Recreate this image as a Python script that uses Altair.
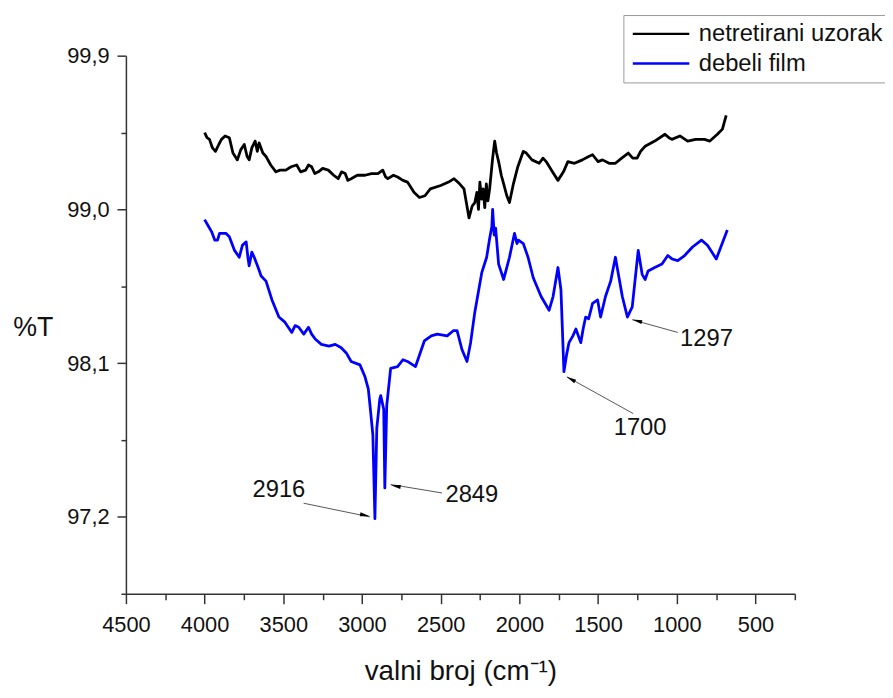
import altair as alt
import pandas as pd

# ---------------- data ----------------
series_names = ["netretirani uzorak", "debeli film"]
series_colors = ["#000000", "#0000ff"]

black_x = [4000, 3985, 3969, 3950, 3931, 3910, 3893, 3870, 3843, 3820, 3792, 3770, 3748, 3730, 3717,
           3700, 3679, 3665, 3654, 3630, 3610, 3580, 3547, 3520, 3484, 3450, 3415, 3390, 3358, 3340,
           3320, 3300, 3277, 3250, 3214, 3180, 3151, 3130, 3107, 3090, 3069, 3030, 2981, 2940, 2899,
           2868, 2850, 2836, 2800, 2774, 2740, 2711, 2670, 2635, 2600, 2566, 2500, 2450, 2415, 2380,
           2352, 2320, 2300, 2283, 2270, 2260, 2251, 2240, 2230, 2220, 2210, 2200, 2189, 2170, 2157,
           2145, 2132, 2115, 2100, 2080, 2063, 2038, 2010, 1975, 1956, 1920, 1874, 1850, 1830, 1790,
           1755, 1720, 1692, 1650, 1600, 1560, 1535, 1500, 1472, 1430, 1390, 1350, 1308, 1280, 1252,
           1230, 1201, 1140, 1075, 1050, 1031, 980, 931, 880, 824, 790, 742, 710, 686]
black_y = [99.45, 99.42, 99.41, 99.36, 99.34, 99.38, 99.41, 99.43, 99.42, 99.33, 99.29, 99.35, 99.38, 99.31, 99.29,
           99.36, 99.40, 99.34, 99.39, 99.33, 99.31, 99.26, 99.22, 99.23, 99.23, 99.25, 99.26, 99.22, 99.23, 99.26,
           99.25, 99.21, 99.22, 99.24, 99.23, 99.20, 99.18, 99.22, 99.21, 99.17, 99.18, 99.20, 99.20, 99.21, 99.21,
           99.23, 99.19, 99.18, 99.20, 99.19, 99.17, 99.16, 99.10, 99.07, 99.08, 99.12, 99.14, 99.16, 99.18, 99.15,
           99.12, 98.95, 99.02, 99.04, 99.10, 99.00, 99.16, 99.06, 99.12, 99.01, 99.15, 99.05, 99.12, 99.30, 99.40,
           99.33, 99.28, 99.20, 99.15, 99.08, 99.04, 99.15, 99.25, 99.34, 99.33, 99.29, 99.27, 99.30, 99.28, 99.22,
           99.17, 99.22, 99.28, 99.27, 99.29, 99.31, 99.32, 99.28, 99.29, 99.27, 99.27, 99.30, 99.33, 99.30, 99.30,
           99.34, 99.37, 99.40, 99.44, 99.42, 99.41, 99.43, 99.40, 99.41, 99.41, 99.40, 99.44, 99.47, 99.55]

blue_x = [4000, 3975, 3956, 3935, 3918, 3905, 3893, 3865, 3843, 3810, 3780, 3760, 3736, 3725, 3717,
          3700, 3685, 3660, 3641, 3610, 3572, 3528, 3490, 3446, 3425, 3402, 3370, 3340, 3320, 3296,
          3258, 3210, 3170, 3132, 3100, 3069, 3013, 2981, 2960, 2950, 2931, 2918, 2906, 2887,
          2881, 2862, 2855, 2843, 2818, 2774, 2740, 2711, 2660, 2604, 2560, 2522, 2459, 2420, 2396,
          2365, 2333, 2310, 2283, 2239, 2208, 2189, 2175, 2170, 2160, 2151, 2132, 2100, 2063, 2031,
          2015, 2006, 1975, 1945, 1912, 1862, 1811, 1786, 1755, 1736, 1717, 1700, 1685, 1660, 1641,
          1610, 1595, 1579, 1560, 1535, 1503, 1484, 1453, 1420, 1390, 1346, 1314, 1283, 1245, 1220,
          1201, 1182, 1140, 1094, 1057, 1030, 994, 950, 900, 843, 805, 749, 720, 679]
blue_y = [98.94, 98.90, 98.87, 98.82, 98.82, 98.86, 98.86, 98.86, 98.84, 98.76, 98.72, 98.79, 98.81, 98.72, 98.67,
          98.75, 98.72, 98.66, 98.61, 98.58, 98.47, 98.37, 98.34, 98.28, 98.32, 98.31, 98.27, 98.31, 98.27, 98.24,
          98.21, 98.20, 98.21, 98.19, 98.16, 98.11, 98.09, 98.02, 97.95, 97.86, 97.68, 97.19, 97.72, 97.89,
          97.91, 97.83, 97.37, 97.85, 98.07, 98.08, 98.12, 98.11, 98.08, 98.23, 98.26, 98.27, 98.26, 98.29, 98.29,
          98.18, 98.11, 98.22, 98.40, 98.63, 98.72, 98.83, 98.90, 99.00, 98.85, 98.89, 98.68, 98.59, 98.72, 98.86,
          98.80, 98.82, 98.80, 98.72, 98.60, 98.49, 98.41, 98.49, 98.66, 98.53, 98.05, 98.15, 98.22, 98.26, 98.30,
          98.22, 98.30, 98.37, 98.36, 98.45, 98.47, 98.37, 98.49, 98.58, 98.72, 98.49, 98.37, 98.43, 98.76, 98.62,
          98.59, 98.64, 98.66, 98.68, 98.73, 98.71, 98.70, 98.73, 98.78, 98.82, 98.79, 98.71, 98.78, 98.88]

# axis ticks
x_major = [4500, 4000, 3500, 3000, 2500, 2000, 1500, 1000, 500]
x_minor = [4250, 3750, 3250, 2750, 2250, 1750, 1250, 750, 250]
y_major = [99.9, 99.0, 98.1, 97.2]
y_minor = [99.45, 98.55, 97.65, 96.75]

# peak annotations
ann_text = ["2916", "2849", "1700", "1297"]
ann_x = [3528, 2302, 1233, 811]
ann_y = [97.36, 97.33, 97.72, 98.24]
arr_x1 = [3371, 2491, 1277, 994]
arr_y1 = [97.28, 97.34, 97.805, 98.28]
arr_x2 = [2950, 2818, 1698, 1283]
arr_y2 = [97.20, 97.39, 98.02, 98.354]
head_x = [2981, 2786, 1673, 1252]
head_y = [97.21, 97.38, 98.007, 98.348]
head_ang = [101, 279, 299, 286]

# ---------------- tables ----------------
df = pd.concat([
    pd.DataFrame({"wn": black_x, "t": black_y, "series": series_names[0]}),
    pd.DataFrame({"wn": blue_x, "t": blue_y, "series": series_names[1]}),
], ignore_index=True)
ann = pd.DataFrame({"label": ann_text, "x": ann_x, "y": ann_y})
arrows = pd.DataFrame({"x1": arr_x1, "y1": arr_y1, "x2": arr_x2, "y2": arr_y2})
heads = pd.DataFrame({"x": head_x, "y": head_y, "ang": head_ang})

FONT = "Liberation Sans"
xscale = alt.Scale(domain=[250, 4500], reverse=True, nice=False, zero=False)
yscale = alt.Scale(domain=[96.75, 99.9], nice=False, zero=False)

lines = alt.Chart(df).mark_line(strokeWidth=2.8, strokeJoin="round").encode(
    x=alt.X("wn:Q", scale=xscale,
            axis=alt.Axis(values=x_major, format="d", title="valni broj (cm⁻¹)",
                          tickSize=10, labelPadding=11, labelFontSize=22, labelFlush=False,
                          labelOverlap=False,
                          titleFontSize=28, titlePadding=23, titleFontWeight="normal")),
    y=alt.Y("t:Q", scale=yscale,
            axis=alt.Axis(values=y_major,
                          labelExpr="replace(format(datum.value, '.1f'), '.', ',')",
                          title="%T", tickSize=9, labelPadding=8, labelFontSize=22,
                          labelFlush=False, labelOverlap=False,
                          titleAngle=0, titleX=-94, titleY=274, titleAlign="center",
                          titleBaseline="middle", titleFontSize=27, titleFontWeight="normal")),
    color=alt.Color("series:N",
                    scale=alt.Scale(domain=series_names, range=series_colors),
                    legend=alt.Legend(title=None, orient="none", legendX=502, legendY=-41,
                                      symbolType="M-1,0H5", symbolSize=361, symbolStrokeWidth=2.5,
                                      labelFontSize=24, labelOffset=45, labelLimit=400,
                                      padding=7, rowPadding=6, strokeColor="#999999",
                                      fillColor="white", labelFont=FONT, labelColor="#111")),
)

arrow_lines = alt.Chart(arrows).mark_rule(color="#555555", strokeWidth=1).encode(
    x=alt.X("x1:Q", scale=xscale,
            axis=alt.Axis(values=x_minor, labels=False, domain=False, tickSize=6, title=None,
                          orient="bottom")),
    x2="x2:Q",
    y=alt.Y("y1:Q", scale=yscale,
            axis=alt.Axis(values=y_minor, labels=False, domain=False, tickSize=5, title=None,
                          orient="left")),
    y2="y2:Q",
)

arrow_heads = alt.Chart(heads).mark_point(
    shape="M0,-1L0.4,1L-0.4,1Z", filled=True, size=100, color="black", opacity=1, strokeWidth=0
).encode(
    x=alt.X("x:Q", scale=xscale, axis=None),
    y=alt.Y("y:Q", scale=yscale, axis=None),
    angle=alt.Angle("ang:Q", scale=None),
)

labels = alt.Chart(ann).mark_text(fontSize=24, font=FONT, color="#111111",
                                  baseline="middle", align="center").encode(
    x=alt.X("x:Q", scale=xscale, axis=None),
    y=alt.Y("y:Q", scale=yscale, axis=None),
    text="label:N",
)

chart = alt.layer(lines, arrow_lines, arrow_heads, labels).resolve_axis(
    x="independent", y="independent"
).properties(
    width=675, height=543,
    autosize=alt.AutoSizeParams(type="none"),
    padding={"left": 119, "top": 45, "right": 91, "bottom": 94},
    background="white",
).configure_view(stroke=None).configure_axis(
    domainColor="#333333", domainWidth=1.5, tickColor="#333333", tickWidth=1.5,
    labelColor="#111111", titleColor="#111111", labelFont=FONT, titleFont=FONT, grid=False,
)

chart.save("out.html", embed_options={"renderer": "svg", "actions": False})
